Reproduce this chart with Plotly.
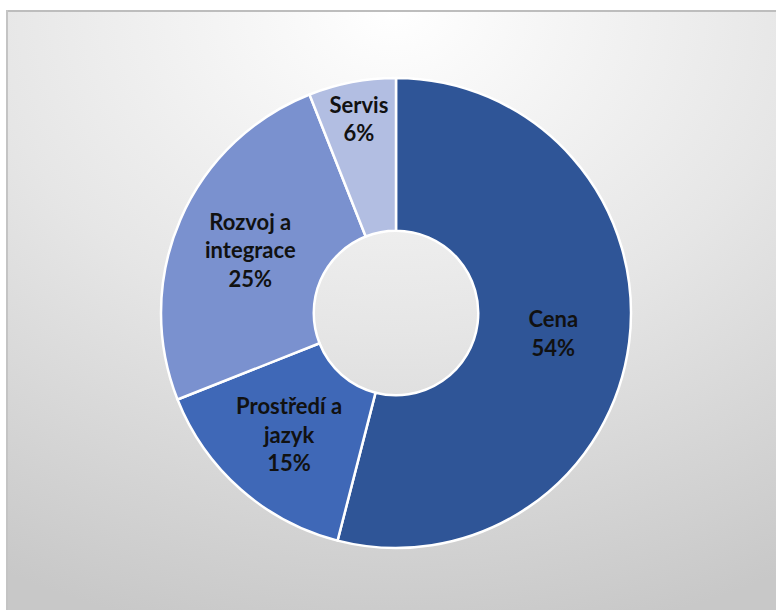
import base64
import plotly.graph_objects as go

labels = ["Cena", "Prostředí a<br>jazyk", "Rozvoj a<br>integrace", "Servis"]
values = [54, 15, 25, 6]
colors = ["#2F5597", "#3F68B7", "#7A91CF", "#B2BEE2"]

W, H = 776, 610

svg = f'''<svg xmlns="http://www.w3.org/2000/svg" width="{W}" height="{H}" viewBox="0 0 {W} {H}">
<defs>
<radialGradient id="g" cx="0.5" cy="0.0" r="1.05" gradientUnits="objectBoundingBox">
<stop offset="0" stop-color="#FFFFFF"/>
<stop offset="0.5" stop-color="#E6E6E6"/>
<stop offset="1" stop-color="#C8C8C8"/>
</radialGradient>
</defs>
<rect x="0" y="0" width="{W}" height="{H}" fill="#FFFFFF"/>
<rect x="6" y="10" width="{W}" height="{H}" fill="url(#g)"/>
<rect x="6" y="10" width="{W}" height="2" fill="#BDBDBD"/>
<rect x="6" y="10" width="2" height="{H}" fill="#C4C4C4"/>
</svg>'''
src = "data:image/svg+xml;base64," + base64.b64encode(svg.encode()).decode()

cx, cy, r = 396, 313, 235
dom_x = [(cx - r) / W, (cx + r) / W]
dom_y = [(H - cy - r) / H, (H - cy + r) / H]

fig = go.Figure(go.Pie(
    labels=labels,
    values=values,
    sort=False,
    direction="clockwise",
    rotation=0,
    hole=0.35,
    marker=dict(colors=colors, line=dict(color="#FFFFFF", width=2.5)),
    texttemplate="<b>%{label}<br>%{percent:.0%}</b>",
    textposition="inside",
    insidetextorientation="horizontal",
    textfont=dict(family="Lato, 'Open Sans', sans-serif", size=22, color="#111111"),
    domain=dict(x=dom_x, y=dom_y),
    showlegend=False,
    hoverinfo="label+percent",
))

fig.update_layout(
    width=W, height=H,
    margin=dict(l=0, r=0, t=0, b=0),
    paper_bgcolor="#FFFFFF",
    images=[dict(source=src, xref="paper", yref="paper", x=0, y=1,
                 sizex=1, sizey=1, xanchor="left", yanchor="top",
                 sizing="stretch", layer="below")],
    uniformtext=dict(minsize=22, mode="show"),
)

fig.write_html("out.html")
